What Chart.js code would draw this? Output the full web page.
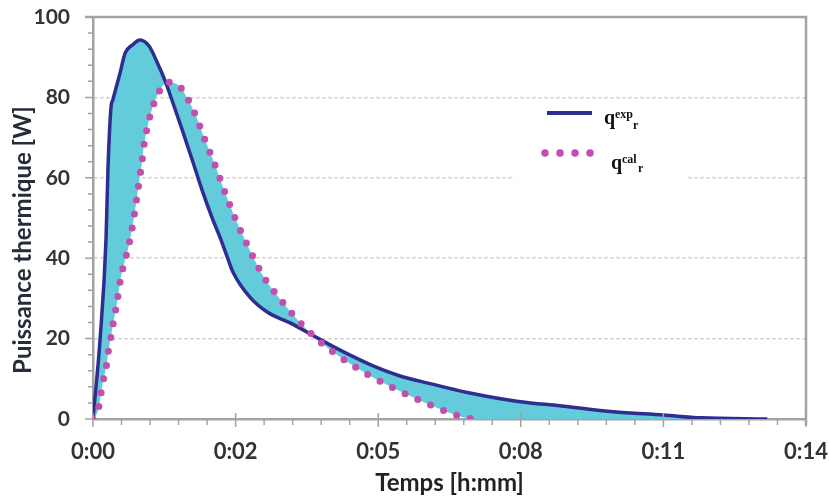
<!DOCTYPE html>
<html lang="fr">
<head>
<meta charset="UTF-8">
<title>Puissance thermique</title>
<script src="https://cdn.jsdelivr.net/npm/chart.js"></script>
<style>
  html, body { margin: 0; padding: 0; background: #fff; }
  canvas { display: block; }
</style>
</head>
<body>
<canvas id="chart" width="829" height="499"></canvas>
<script>
// time in minutes, power in W
const expTime = [0, 0.14, 0.255, 0.295, 0.354, 0.39, 0.53, 0.63, 0.77, 0.92, 1.10, 1.25, 1.41, 1.57, 1.75, 1.96, 2.14, 2.34, 2.50, 2.63, 2.75, 3.08, 3.42, 3.87, 4.26, 4.72, 5.11, 5.50, 6.03, 6.62, 7.35, 8.39, 9.17, 10.22, 11.2, 11.93, 13.24];
const expPower = [0, 20, 44.5, 62.7, 77.6, 79.4, 86, 91, 93, 94.3, 92.8, 89, 84.3, 78.6, 72, 64, 57, 50, 45, 40.5, 36.5, 30.3, 26.6, 23.9, 21.2, 18.0, 15.5, 13.2, 10.7, 8.8, 6.6, 4.3, 3.3, 1.8, 1.0, 0.3, 0];

const calcTime = [0, 0.10, 0.15, 0.20, 0.26, 0.30, 0.35, 0.40, 0.45, 0.50, 0.54, 0.61, 0.69, 0.79, 0.86, 0.92, 0.96, 0.99, 1.04, 1.10, 1.18, 1.28, 1.47, 1.71, 1.87, 2.00, 2.20, 2.42, 2.61, 2.83, 3.08, 3.34, 3.67, 4.05, 4.46, 4.91, 5.42, 5.93, 6.44, 6.97, 7.25, 7.56, 14];
const calcPower = [0, 2.2, 5.8, 9.5, 13, 16.7, 20.3, 24, 27.5, 31.3, 34.8, 38.6, 42.5, 49, 55, 60.2, 63.7, 67.2, 70.9, 74.4, 77.9, 81, 83.8, 82.6, 79.4, 76, 69.4, 62.4, 55.7, 48.8, 42, 35.6, 29.9, 24.2, 19.2, 14.9, 10.9, 7.5, 4.5, 1.7, 0.5, 0, 0];
const calcEnd = 7.56; // the computed curve stops being drawn here

const xTickValues = [0, 2.8, 5.6, 8.4, 11.2, 14];
const xTickLabels = ['0:00', '0:02', '0:05', '0:08', '0:11', '0:14'];

const navy = '#2e2d90';
const magenta = '#c24fae';
const cyan = '#63cbd9';
const axisGray = '#a3a3a3';
const textColor = '#333333';

const toPoints = (xs, ys) => xs.map((x, i) => ({ x: x, y: ys[i] }));

// axis frame, minor ticks, legend and y title
const decorations = {
    id: 'decorations',
    beforeDatasetsDraw(chart) {
        const ctx = chart.ctx;
        // white box behind the legend (hides part of the grid)
        ctx.save();
        ctx.fillStyle = '#fff';
        ctx.fillRect(515, 122, 173, 66);
        ctx.restore();
    },
    afterDraw(chart) {
        const ctx = chart.ctx;
        const xs = chart.scales.x, ys = chart.scales.y;
        const a = chart.chartArea;
        ctx.save();
        ctx.strokeStyle = axisGray;
        ctx.lineWidth = 2.5;
        ctx.beginPath();
        ctx.moveTo(a.left - 8, a.top);
        ctx.lineTo(a.right, a.top);
        ctx.lineTo(a.right, a.bottom + 6);
        ctx.stroke();

        ctx.lineWidth = 1.5;
        ctx.beginPath();
        // y ticks every 4 W, longer every 20 W
        for (let v = 0; v <= 100; v += 4) {
            const py = ys.getPixelForValue(v);
            const len = v % 20 === 0 ? 8 : 5;
            ctx.moveTo(a.left - len, py);
            ctx.lineTo(a.left, py);
        }
        // x ticks, five per labelled step
        for (let i = 0; i <= 25; i++) {
            const px = xs.getPixelForValue(i * 14 / 25);
            if (i % 5 === 0) {
                ctx.moveTo(px, a.bottom - 6);
                ctx.lineTo(px, a.bottom + 8);
            } else {
                ctx.moveTo(px, a.bottom);
                ctx.lineTo(px, a.bottom + 6);
            }
        }
        ctx.stroke();

        // y axis title
        ctx.fillStyle = '#262c3a';
        ctx.font = 'bold 24px Lato';
        ctx.textAlign = 'center';
        ctx.textBaseline = 'middle';
        ctx.translate(23, 240);
        ctx.rotate(-Math.PI / 2);
        ctx.fillText('Puissance thermique [W]', 0, 0);
        ctx.restore();

        // legend
        ctx.save();
        ctx.strokeStyle = navy;
        ctx.lineWidth = 4;
        ctx.beginPath();
        ctx.moveTo(547, 113);
        ctx.lineTo(592, 113);
        ctx.stroke();
        ctx.strokeStyle = magenta;
        ctx.lineWidth = 7.5;
        ctx.lineCap = 'round';
        ctx.setLineDash([0, 15]);
        ctx.beginPath();
        ctx.moveTo(545, 153);
        ctx.lineTo(591, 153);
        ctx.stroke();
        ctx.setLineDash([]);

        ctx.fillStyle = '#111';
        ctx.textBaseline = 'alphabetic';
        ctx.textAlign = 'left';
        ctx.font = 'bold 20px "Liberation Serif"';
        ctx.fillText('q', 604, 124);
        ctx.fillText('q', 611, 169);
        ctx.font = 'bold 12px "Liberation Serif"';
        ctx.fillText('exp', 615, 118);
        ctx.fillText('r', 633, 129);
        ctx.fillText('cal', 622, 163);
        ctx.fillText('r', 638, 172);
        ctx.restore();
    }
};

new Chart(document.getElementById('chart'), {
    type: 'line',
    data: {
        datasets: [
            {
                label: 'q exp r',
                data: toPoints(expTime, expPower),
                borderColor: navy,
                borderWidth: 3.5,
                backgroundColor: cyan,
                fill: { target: 1, above: cyan, below: cyan },
                pointRadius: 0,
                cubicInterpolationMode: 'monotone',
                order: 1
            },
            {
                label: 'q cal r',
                data: toPoints(calcTime, calcPower),
                borderColor: magenta,
                borderWidth: 7,
                borderDash: [0, 14],
                borderCapStyle: 'round',
                fill: false,
                pointRadius: 0,
                cubicInterpolationMode: 'monotone',
                segment: {
                    borderColor: c => c.p0.parsed.x >= calcEnd ? 'rgba(0,0,0,0)' : magenta
                },
                order: 0
            }
        ]
    },
    options: {
        responsive: false,
        animation: false,
        layout: { padding: { left: 0, right: 23, top: 17, bottom: 0 } },
        plugins: {
            legend: { display: false },
            tooltip: { enabled: false }
        },
        scales: {
            x: {
                type: 'linear',
                min: 0,
                max: 14,
                afterBuildTicks: s => { s.ticks = xTickValues.map(v => ({ value: v })); },
                afterFit: s => { s.height = 80; s.paddingLeft = 0; s.paddingRight = 0; },
                ticks: {
                    callback: (v, i) => xTickLabels[i],
                    font: { family: 'Lato', size: 22, weight: 'bold' },
                    color: textColor,
                    padding: 12,
                    maxRotation: 0
                },
                grid: { display: false },
                border: { display: true, color: axisGray, width: 2.5 },
                title: {
                    display: true,
                    text: 'Temps [h:mm]',
                    font: { family: 'Lato', size: 24, weight: 'bold' },
                    color: '#222',
                    padding: { top: 0, bottom: 1 }
                }
            },
            y: {
                min: 0,
                max: 100,
                afterFit: s => { s.width = 93; s.paddingTop = 0; s.paddingBottom = 0; },
                ticks: {
                    stepSize: 20,
                    font: { family: 'Lato', size: 21, weight: 'bold' },
                    color: textColor,
                    padding: 23
                },
                grid: {
                    drawTicks: false,
                    color: c => (c.tick.value === 0 || c.tick.value === 100) ? 'rgba(0,0,0,0)' : '#c9c9c9',
                    lineWidth: 1.5
                },
                border: { display: true, color: axisGray, width: 2.5, dash: [3, 3] }
            }
        }
    },
    plugins: [decorations]
});
</script>
</body>
</html>
